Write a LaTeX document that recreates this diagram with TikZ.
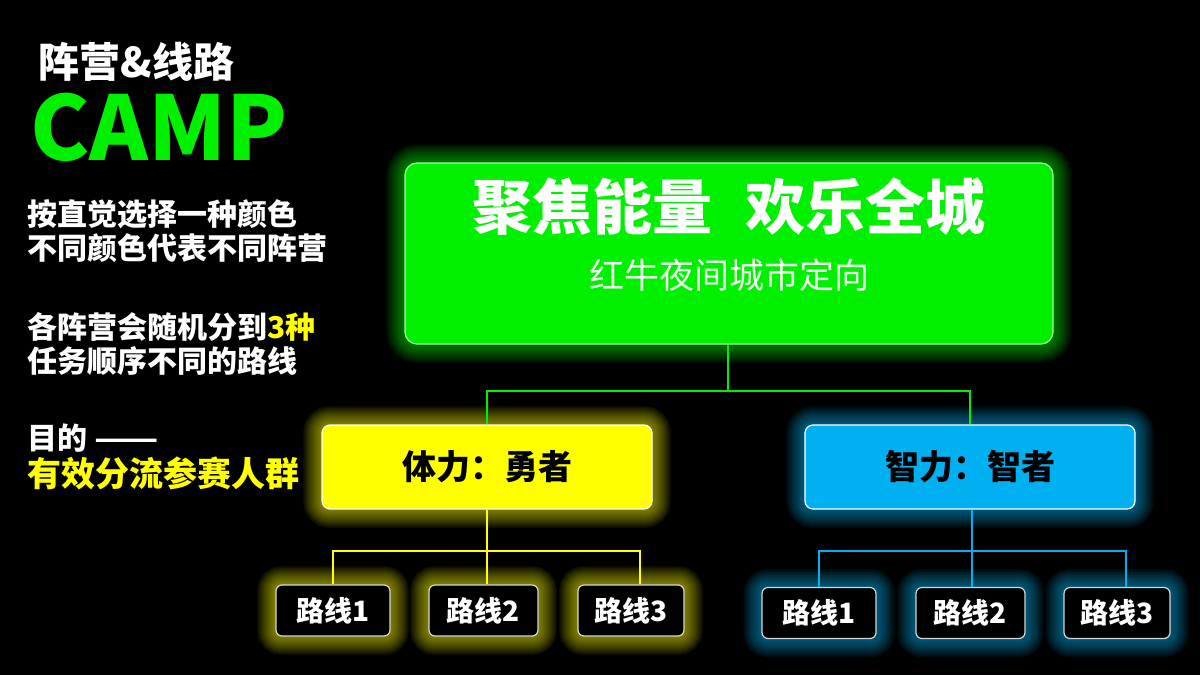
\documentclass[tikz,border=0pt]{standalone}
\usepackage{fontspec}
\setmainfont{Noto Sans CJK SC}
\usetikzlibrary{positioning,calc}

\definecolor{camp}{RGB}{0,240,0}
\definecolor{brave}{RGB}{255,255,0}
\definecolor{wise}{RGB}{0,176,240}
\definecolor{edge}{RGB}{215,215,215}

\pgfdeclarelayer{bg}
\pgfdeclarelayer{halo}
\pgfsetlayers{bg,halo,main}

% soft glow round a box
\newcommand{\halo}[3]{%
  \begin{pgfonlayer}{halo}
    \foreach \w in {2,4,...,18}
      \draw[#2, opacity=0.07, line width=\w pt, rounded corners=#3] (#1.south west) rectangle (#1.north east);
  \end{pgfonlayer}}

\tikzset{
  mainbox/.style={draw=white!65!camp, fill=camp, line width=0.6pt, rounded corners=6pt,
    minimum width=324pt, minimum height=90.5pt, inner sep=0pt},
  teambox/.style={draw=white!75, line width=0.6pt, rounded corners=4pt, text=black,
    minimum width=165pt, minimum height=42pt, inner sep=0pt,
    font=\fontsize{17pt}{20pt}\selectfont\bfseries},
  routebox/.style={draw=edge, fill=black, text=white, line width=0.6pt, rounded corners=3pt,
    minimum height=25.5pt, inner sep=0pt, font=\fontsize{14pt}{16pt}\selectfont\bfseries},
  lefttxt/.style={anchor=west, align=left, text=white, inner sep=0pt,
    font=\fontsize{15pt}{16.75pt}\selectfont\bfseries},
  link/.style={line width=1pt}
}

\begin{document}
\begin{tikzpicture}[x=0.5pt, y=-0.5pt]
    % Background
    \begin{pgfonlayer}{bg}
      \fill[black] (0,0) rectangle (1200,675);
    \end{pgfonlayer}
    \useasboundingbox (0,0) rectangle (1200,675);

    % Left column
    \node[lefttxt, font=\fontsize{20.5pt}{22pt}\selectfont\bfseries] (tag) at (38,62) {阵营\&线路};
    \node[lefttxt, text=camp, font=\fontsize{44.5pt}{46pt}\selectfont\bfseries] (camptxt) at (30,127) {CAMP};
    \node[lefttxt] (pick) at (27,231) {按直觉选择一种颜色\\不同颜色代表不同阵营};
    \node[lefttxt] (split) at (27,344) {各阵营会随机分到\textcolor{brave}{3种}\\任务顺序不同的路线};
    \node[lefttxt] (aim) at (27,438) {目的 {\scalebox{1.25}[1]{——}}};
    \node[lefttxt, text=brave, font=\fontsize{17pt}{19pt}\selectfont\bfseries] (aimtxt) at (27,473) {有效分流参赛人群};

    % Main box
    \node[mainbox] (main) at (729,253.5) {};
    \node[text=white, inner sep=0pt, font=\fontsize{30pt}{32pt}\selectfont\bfseries] (head) at (729,207) {聚焦能量\hspace{17pt}欢乐全城};
    \node[text=white!94!camp, inner sep=0pt, font=\fontsize{17.5pt}{19pt}\selectfont] (sub) at (729,275) {红牛夜间城市定向};
    \halo{main}{camp}{6pt}

    % Camps
    \node[teambox, fill=brave] (yel) at (487,467) {体力：勇者};
    \node[teambox, fill=wise] (blu) at (970,467) {智力：智者};
    \halo{yel}{brave}{4pt}
    \halo{blu}{wise}{4pt}

    % Routes
    \node[routebox, minimum width=57pt] (y1) at (333,610.5) {路线1};
    \node[routebox, minimum width=54.5pt] (y2) at (483.5,610.5) {路线2};
    \node[routebox, minimum width=53pt] (y3) at (631,610.5) {路线3};
    \node[routebox, minimum width=57pt] (b1) at (819,613) {路线1};
    \node[routebox, minimum width=54.5pt] (b2) at (970.5,613) {路线2};
    \node[routebox, minimum width=53pt] (b3) at (1117,613) {路线3};
    \foreach \r in {y1,y2,y3} {\halo{\r}{brave}{3pt}}
    \foreach \r in {b1,b2,b3} {\halo{\r}{wise}{3pt}}

    % Connectors
    \coordinate (gbus) at ($(main.south)+(-1,46)$);
    \draw[link, camp] (main.south -| gbus) -- (gbus);
    \draw[link, camp] (yel.north) |- (gbus) -| (blu.north);

    \coordinate (ybus) at ($(yel.south)+(0,41)$);
    \draw[link, brave] (yel.south) -- (yel.south |- y2.north);
    \draw[link, brave] (y1.north) -- (y1.north |- ybus) -- ([xshift=4.5pt]y3.north |- ybus) -- ([xshift=4.5pt]y3.north);

    \coordinate (bbus) at ($(blu.south)+(2,41)$);
    \draw[link, wise] (blu.south -| bbus) -- (bbus |- b2.north);
    \draw[link, wise] (b1.north) -- (b1.north |- bbus) -- ([xshift=4.5pt]b3.north |- bbus) -- ([xshift=4.5pt]b3.north);
\end{tikzpicture}
\end{document}
